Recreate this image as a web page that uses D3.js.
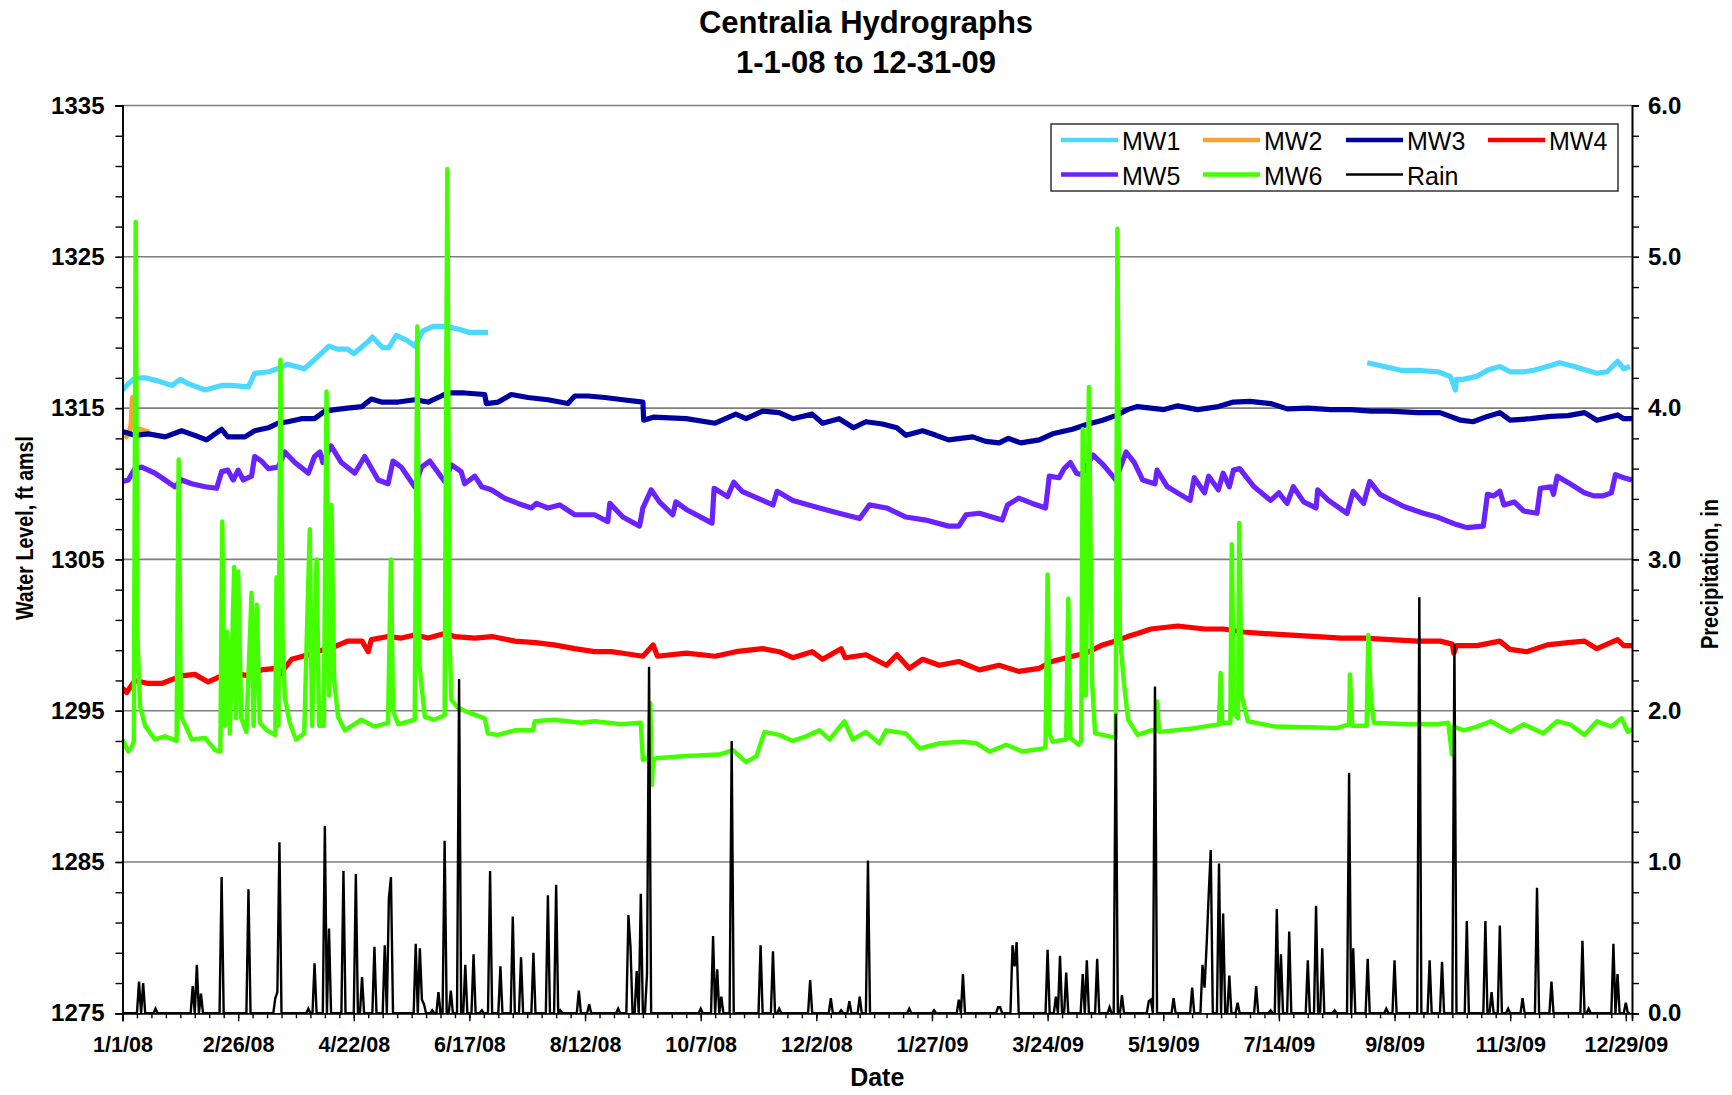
<!DOCTYPE html>
<meta charset="utf-8">
<script src="https://d3js.org/d3.v7.min.js"></script>
<style>
  body { margin: 0; background: #fff; }
  text { font-family: "Liberation Sans", Arial, sans-serif; }
</style>
<div id="my_dataviz"></div>
<script>
// all x values are days since 1/1/08
var seriesNames = ["MW1", "MW2", "MW3", "MW4", "MW5", "MW6", "Rain"];
var seriesColors = ["#4dd8ff", "#f9a230", "#0000a0", "#ff0000", "#6a22ff", "#44ff00", "#000000"];

var levelTicks = [1275, 1285, 1295, 1305, 1315, 1325, 1335];
var rainTicks = [0, 1, 2, 3, 4, 5, 6];
var dateTickDays = [0, 56, 112, 168, 224, 280, 336, 392, 448, 504, 560, 616, 672, 728];

var mw1 = [[0,1316.2],[2,1316.5],[6,1317.0],[11,1317.0],[17,1316.8],[24,1316.5],[28,1316.9],[32,1316.6],
  [40,1316.2],[48,1316.5],[53,1316.5],[61,1316.4],[64,1317.3],[71,1317.4],[75,1317.6],[80,1317.9],[88,1317.6],
  [93,1318.2],[100,1319.1],[104,1318.9],[109,1318.9],[112,1318.6],[119,1319.4],[121,1319.7],[126,1319.0],
  [129,1319.0],[132.6,1319.8],[137.5,1319.5],[141.5,1319.1],[145.5,1320.1],[150.4,1320.4],[156.8,1320.4],
  [163.3,1320.2],[168,1320.0],[173,1320.0],[177,1320.0],[390,null],
  [602.8,1318.0],[611,1317.75],[619,1317.5],[627,1317.5],[637,1317.4],[643,1317.1],[645.5,1316.2],[646,1316.9],
  [649,1316.9],[656,1317.1],[661,1317.5],[667,1317.75],[672,1317.4],[678.6,1317.4],[683.5,1317.5],[690,1317.75],
  [696,1318.0],[703,1317.75],[709,1317.5],[714,1317.3],[719,1317.4],[724,1318.1],[727,1317.6],[730,1317.75]];

var mw2 = [[1,1313.0],[3,1313.3],[4.2,1313.9],[4.8,1315.7],[5.5,1313.9],[6.5,1313.5],[8.5,1313.6],[10.5,1313.5],[13,1313.4]];

var mw3 = [[0,1313.45],[6,1313.2],[12.5,1313.3],[20.6,1313.1],[28.6,1313.5],[35,1313.2],[40.7,1312.9],[48,1313.6],
  [51,1313.1],[59.3,1313.1],[64,1313.5],[70.6,1313.7],[75.4,1314.0],[80,1314.1],[86.7,1314.3],[93,1314.3],
  [98,1314.8],[103,1314.9],[109,1315.0],[116,1315.1],[120.5,1315.6],[125.4,1315.4],[133.5,1315.4],[141.5,1315.55],
  [148,1315.4],[154.4,1315.8],[157.6,1316.0],[165.7,1316.0],[175.4,1315.9],[176.2,1315.3],[182,1315.4],
  [188.3,1315.9],[196.4,1315.7],[206,1315.55],[215.7,1315.3],[219,1315.8],[225.4,1315.8],[233.5,1315.7],
  [242.3,1315.55],[252,1315.4],[252.4,1314.2],[257,1314.4],[273,1314.3],[287,1314.0],[297,1314.6],[302,1314.3],
  [310,1314.8],[318,1314.7],[324.6,1314.3],[334,1314.6],[339,1314.0],[347,1314.3],[354,1313.7],[360,1314.1],
  [368,1313.95],[375,1313.7],[379.4,1313.2],[387.5,1313.5],[394,1313.2],[400,1312.9],[411.7,1313.1],[418,1312.8],
  [424.5,1312.7],[429,1313.0],[435,1312.7],[444,1312.9],[450.4,1313.3],[460,1313.6],[466.5,1313.9],[474.6,1314.2],
  [481,1314.5],[486.7,1314.9],[491.5,1315.1],[498,1315.0],[504.4,1314.9],[511,1315.15],[520.7,1314.9],
  [530.7,1315.1],[538,1315.4],[546,1315.45],[556,1315.3],[564,1314.95],[574,1315.0],[585,1314.9],[595,1314.9],
  [604.7,1314.8],[614,1314.8],[627,1314.7],[638,1314.7],[648,1314.2],[654,1314.1],[661,1314.45],[667,1314.7],
  [672,1314.2],[682,1314.3],[691.8,1314.45],[700,1314.5],[708,1314.7],[714,1314.2],[724,1314.55],[727,1314.3],[731,1314.3]];

var mw4 = [[0,1296.5],[2,1296.2],[6,1297.0],[12.5,1296.8],[19,1296.8],[28.6,1297.3],[35,1297.4],[41.5,1296.9],
  [48,1297.3],[56,1297.4],[62.5,1297.3],[67.3,1297.7],[74,1297.8],[76.2,1297.4],[81.9,1298.4],[90,1298.7],
  [96.4,1299.0],[103,1299.25],[109,1299.6],[116,1299.6],[119,1298.9],[120.5,1299.7],[128.6,1299.9],[135,1299.8],
  [141.5,1300.0],[148,1299.8],[156,1300.1],[160.9,1299.9],[170.6,1299.8],[179,1299.9],[190,1299.6],[200,1299.5],
  [209,1299.35],[219,1299.1],[228.6,1298.9],[236.7,1298.9],[242.3,1298.8],[252,1298.6],[257,1299.35],[259,1298.6],
  [273,1298.8],[287,1298.6],[297,1298.9],[310,1299.1],[318,1298.9],[324.6,1298.5],[334,1298.9],[339,1298.4],
  [348,1299.1],[350,1298.5],[360,1298.7],[370,1298.0],[375,1298.7],[381,1297.8],[387.5,1298.4],[395.6,1298.0],
  [405,1298.25],[415,1297.7],[424.5,1298.0],[434,1297.6],[444,1297.8],[450,1298.25],[460,1298.6],[466.5,1298.8],
  [474.6,1299.35],[481,1299.6],[486.7,1299.9],[491.5,1300.1],[498,1300.4],[511,1300.6],[524,1300.4],[533,1300.4],
  [543,1300.2],[553,1300.1],[566,1300.0],[578.8,1299.9],[590,1299.8],[601,1299.8],[614,1299.7],[627,1299.6],
  [638,1299.6],[644,1299.4],[644.7,1298.8],[646,1299.3],[656,1299.3],[667,1299.6],[672,1299.05],[680,1298.9],
  [690,1299.35],[700,1299.5],[708,1299.6],[714,1299.1],[724,1299.7],[727,1299.3],[731,1299.3]];

var mw5 = [[0,1310.15],[2.8,1310.25],[6,1311.0],[9.3,1311.1],[15.7,1310.7],[20.6,1310.25],[25.4,1309.8],
  [28.6,1310.25],[33.5,1310.0],[40,1309.8],[45.6,1309.7],[48,1310.8],[51,1310.9],[53.6,1310.25],[56,1310.9],
  [58.5,1310.25],[62.5,1310.5],[64,1311.8],[67.3,1311.5],[70.6,1311.0],[75.4,1311.1],[78.6,1312.1],[83.5,1311.4],
  [90,1310.7],[93,1311.8],[95.6,1312.1],[97,1311.4],[101,1312.5],[106,1311.4],[112.5,1310.7],[117.3,1311.8],
  [123.8,1310.25],[128.6,1310.0],[131,1311.5],[135,1311.1],[141.5,1309.8],[144.8,1311.1],[148.8,1311.5],
  [156,1310.15],[159.3,1311.25],[164,1310.8],[165.7,1310.0],[170.6,1310.5],[174,1309.8],[178.6,1309.6],
  [185,1309.05],[191.5,1308.7],[198,1308.4],[200.4,1308.7],[206,1308.4],[211.7,1308.6],[219,1307.95],
  [228.6,1307.95],[235,1307.5],[236,1308.7],[242.3,1307.8],[250.4,1307.2],[252,1308.4],[256,1309.6],[260,1308.8],
  [266.5,1307.95],[268,1308.8],[273,1308.3],[285.5,1307.4],[286.5,1309.7],[293,1309.15],[296,1310.1],[300,1309.5],
  [310,1308.9],[315,1308.6],[317,1309.5],[324.6,1308.9],[337.5,1308.4],[347,1308.05],[357,1307.7],[361.7,1308.6],
  [370,1308.4],[379.4,1307.8],[389,1307.6],[400,1307.2],[405,1307.2],[408.5,1307.95],[415,1308.05],[426,1307.6],
  [428.6,1308.6],[434,1309.05],[440.6,1308.7],[447,1308.4],[448.8,1310.5],[453.6,1310.4],[456,1311.0],[459,1311.4],
  [462,1310.7],[464.5,1310.6],[470,1311.9],[475,1311.25],[481,1310.25],[486,1312.1],[490,1311.4],[494,1310.25],
  [500,1310.0],[501,1310.9],[506,1309.8],[517,1308.9],[519,1310.4],[524,1309.4],[526,1310.5],[530.7,1309.6],
  [533,1310.7],[536,1309.8],[538,1310.9],[541,1311.0],[548,1309.8],[556,1308.9],[560,1309.4],[564,1308.7],
  [567,1309.8],[572,1308.8],[578,1308.4],[578.8,1309.6],[584,1308.9],[593,1308.05],[596,1309.5],[601,1308.7],
  [604,1310.15],[609,1309.3],[620.5,1308.5],[630,1308.05],[636.6,1307.8],[646,1307.3],[651,1307.1],[659,1307.2],
  [661,1309.3],[664,1309.2],[667,1309.5],[669,1308.6],[674,1308.8],[678.5,1308.2],[685,1308.05],[686.6,1309.7],
  [691.8,1309.8],[693,1309.3],[694.8,1310.5],[701,1310.0],[708,1309.4],[712.5,1309.2],[717,1309.2],[721,1309.4],
  [723,1310.6],[727,1310.4],[731,1310.25]];

var mw6 = [[0,1293.1],[2.8,1292.3],[4.4,1292.6],[5.5,1293.0],[6.4,1327.3],[7.2,1300],[8.5,1295.3],[11,1294.0],
  [15.7,1293.1],[20.6,1293.3],[26.2,1293.0],[27.2,1311.6],[28.2,1296.5],[28.6,1294.6],[33.5,1293.1],[40,1293.2],
  [44.8,1292.4],[47.4,1292.3],[48.3,1307.5],[49.5,1294],[50.7,1300.2],[52,1293.5],[54.1,1304.5],[55,1294.5],
  [56,1304.2],[57.5,1294.5],[60,1293.6],[62.5,1302.8],[63.5,1294],[65,1302.0],[66.5,1294.2],[70,1293.7],
  [74,1293.4],[74.6,1303.8],[75.5,1294],[76.5,1318.2],[77.5,1300],[78.6,1295.9],[81,1294.2],[84,1293.1],
  [88,1293.5],[90.7,1307.0],[91.8,1294],[94,1305.0],[95.2,1294],[97.5,1294],[98.8,1316.1],[100,1296],
  [101.2,1308.6],[102.5,1297],[104.4,1294.6],[107.7,1293.7],[111,1294],[115.7,1294.4],[122,1293.95],
  [128.6,1294.2],[130,1305],[131,1295],[133.5,1294.1],[141.5,1294.4],[142.8,1320.4],[143.8,1298],[146.4,1294.6],
  [151,1294.4],[156,1294.7],[157.3,1330.8],[158.3,1300],[159.3,1295.7],[162.5,1295.2],[167.3,1294.9],
  [175.4,1294.5],[177,1293.5],[181.8,1293.4],[190,1293.7],[198.8,1293.7],[199.6,1294.3],[209,1294.4],
  [222,1294.2],[228.6,1294.3],[241.5,1294.1],[251,1294.2],[252,1291.75],[255,1291.9],[255.6,1295.5],
  [256.3,1290.1],[257,1291.8],[258.5,1291.85],[273,1292.0],[289,1292.1],[295.6,1292.4],[302,1291.6],[307,1292.0],
  [310.9,1293.6],[318,1293.4],[324.6,1293.0],[331,1293.3],[337.5,1293.7],[342.4,1293.1],[349.6,1294.3],
  [353.6,1293.1],[360,1293.6],[366.5,1292.85],[369.8,1293.7],[379.4,1293.5],[386,1292.5],[395.8,1292.85],
  [407,1292.95],[413.6,1292.85],[420,1292.3],[428,1292.75],[436,1292.3],[445.5,1292.5],[447,1292.6],[448,1304.0],
  [449,1293.5],[450.4,1292.95],[457,1293.1],[458,1302.4],[459,1293.2],[463,1292.75],[464.3,1293],[465,1313.6],
  [466.5,1296],[468,1316.4],[469.5,1297],[471,1293.5],[478,1293.3],[481,1293.2],[481.8,1326.85],[483,1300],
  [485,1296.8],[487,1294.4],[491.6,1293.4],[498,1293.7],[500.5,1293.7],[501,1295.6],[502,1293.6],[517,1293.8],
  [531,1294.1],[531.8,1297.5],[532.5,1294.2],[536.5,1294.2],[537.2,1306.0],[538.2,1294.8],[540.2,1294.5],
  [540.8,1307.4],[542,1296],[545,1294.3],[558,1293.95],[574,1293.9],[588,1293.85],[594,1294.1],[594.4,1297.4],
  [595.5,1294],[602.5,1294],[603.3,1300.0],[604.5,1296],[606,1294.2],[622,1294.1],[636.7,1294.1],[642,1294.2],
  [643.8,1292.1],[644.7,1293.95],[649.6,1293.7],[656,1293.95],[662.6,1294.3],[672,1293.6],[678.6,1294.1],
  [688,1293.5],[694.7,1294.3],[701,1294.1],[708,1293.4],[714,1294.3],[721,1293.95],[726,1294.5],[729,1293.6],[731,1293.8]];

// daily rain (in); days not listed had no rain
var rainDays = [[8,0.21],[10,0.20],[16,0.03],[34,0.18],[36,0.32],[38,0.13],[48,0.90],[61,0.82],[74,0.10],[75,0.14],
  [76,1.13],[90,0.03],[93,0.33],[98,1.24],[100,0.56],[107,0.94],[113,0.92],[116,0.24],[122,0.44],[127,0.45],
  [129,0.76],[130,0.90],[142,0.46],[144,0.43],[145,0.09],[146,0.06],[150,0.02],[153,0.14],[156,1.14],[159,0.15],
  [163,2.21],[166,0.32],[170,0.39],[174,0.02],[178,0.94],[183,0.31],[189,0.64],[193,0.37],[199,0.40],[206,0.78],
  [210,0.85],[212,0.02],[221,0.15],[226,0.06],[240,0.03],[245,0.65],[246,0.44],[249,0.28],[251,0.79],[254,0.26],
  [255,2.29],[280,0.03],[286,0.51],[288,0.29],[290,0.11],[295,1.80],[309,0.45],[315,0.41],[318,0.03],[333,0.22],
  [343,0.10],[348,0.02],[352,0.08],[357,0.11],[361,1.01],[381,0.03],[393,0.02],[405,0.09],[407,0.26],[424,0.04],
  [425,0.04],[431,0.45],[432,0.31],[433,0.47],[448,0.42],[452,0.11],[454,0.38],[457,0.27],[465,0.26],[467,0.35],
  [472,0.36],[478,0.04],[481,1.98],[484,0.12],[497,0.08],[498,0.09],[500,2.16],[509,0.10],[518,0.17],[523,0.32],
  [524,0.17],[525,0.45],[526,0.78],[527,1.08],[531,0.99],[533,0.66],[536,0.25],[540,0.07],[549,0.18],[556,0.02],
  [559,0.69],[561,0.39],[565,0.54],[574,0.35],[578,0.71],[581,0.43],[587,0.02],[594,1.59],[596,0.43],[603,0.36],
  [612,0.03],[616,0.35],[628,2.75],[633,0.35],[639,0.34],[645,2.44],[651,0.61],[660,0.61],[663,0.14],[667,0.58],
  [671,0.03],[678,0.10],[685,0.83],[692,0.21],[707,0.48],[710,0.03],[722,0.46],[724,0.26],[728,0.07]];

// set the dimensions and margins of the graph
var margin = {top: 105.5, left: 122.5},
    width = 1509.5,
    height = 907.8;

var svg = d3.select("#my_dataviz")
  .append("svg")
    .attr("width", 1732)
    .attr("height", 1095)
  .append("g")
    .attr("transform", "translate(" + margin.left + "," + margin.top + ")");

var t0 = Date.UTC(2008, 0, 1);
function toDate(d) { return new Date(t0 + d * 864e5); }

var x = d3.scaleUtc().domain([toDate(0), toDate(731)]).range([0, width]);
var y = d3.scaleLinear().domain([1275, 1335]).range([height, 0]);
var yRain = d3.scaleLinear().domain([0, 6]).range([height, 0]);

// gridlines
svg.append("g").selectAll("line")
  .data(levelTicks.slice(1))
  .enter().append("line")
    .attr("x1", 0).attr("x2", width)
    .attr("y1", function(d) { return y(d); })
    .attr("y2", function(d) { return y(d); })
    .attr("stroke", "#7f7f7f")
    .attr("stroke-width", 1.6);

svg.append("clipPath").attr("id", "plotclip")
  .append("rect").attr("x", 0).attr("y", -2).attr("width", width).attr("height", height + 2);

var plot = svg.append("g").attr("clip-path", "url(#plotclip)");

var wellLine = d3.line()
  .defined(function(d) { return d[1] != null; })
  .x(function(d) { return x(toDate(d[0])); })
  .y(function(d) { return y(d[1]); });

var wells = [mw1, mw2, mw3, mw4, mw5, mw6];
wells.forEach(function(data, i) {
  plot.append("path")
    .datum(data)
    .attr("fill", "none")
    .attr("stroke", seriesColors[i])
    .attr("stroke-width", i == 5 ? 4.5 : 5.2)
    .attr("stroke-linejoin", "round")
    .attr("d", wellLine);
});

// rain: one value per day
var rainMap = new Map(rainDays);
var rain = d3.range(0, 731).map(function(d) { return [d, rainMap.get(d) || 0]; });

plot.append("path")
  .datum(rain)
  .attr("fill", "none")
  .attr("stroke", "#000")
  .attr("stroke-width", 2.4)
  .attr("d", d3.line()
    .x(function(d) { return x(toDate(d[0])); })
    .y(function(d) { return yRain(d[1]); }));

// axes
function styleAxis(sel, size, weight) {
  sel.selectAll("path").attr("stroke", "#000").attr("stroke-width", 1.6);
  sel.selectAll("line").attr("stroke", "#000").attr("stroke-width", 1.4);
  sel.selectAll("text")
    .attr("font-family", "'Liberation Sans', Arial, sans-serif")
    .style("font-size", size + "px")
    .style("font-weight", weight)
    .attr("fill", "#000");
}

// minor ticks
svg.append("g")
  .call(d3.axisLeft(y).tickValues(d3.range(1275, 1336, 2)).tickSize(7).tickFormat(""))
  .call(styleAxis, 10, "normal");
svg.append("g")
  .attr("transform", "translate(" + width + ",0)")
  .call(d3.axisRight(yRain).tickValues(d3.range(0, 31).map(function(d) { return d / 5; })).tickSize(7).tickFormat(""))
  .call(styleAxis, 10, "normal");
svg.append("g")
  .attr("transform", "translate(0," + height + ")")
  .call(d3.axisBottom(x).tickValues(d3.range(0, 732, 7).map(toDate)).tickSize(5).tickFormat(""))
  .call(styleAxis, 10, "normal");

// major ticks and labels
svg.append("g")
  .call(d3.axisLeft(y).tickValues(levelTicks).tickSize(7).tickPadding(11).tickFormat(d3.format("d")))
  .call(styleAxis, 24, "bold");

svg.append("g")
  .attr("transform", "translate(" + width + ",0)")
  .call(d3.axisRight(yRain).tickValues(rainTicks).tickSize(7).tickPadding(9).tickFormat(d3.format(".1f")))
  .call(styleAxis, 24, "bold");

svg.append("g")
  .attr("transform", "translate(0," + height + ")")
  .call(d3.axisBottom(x).tickValues(dateTickDays.map(toDate)).tickSize(8).tickPadding(15)
    .tickFormat(d3.utcFormat("%-m/%-d/%y")))
  .call(styleAxis, 21.5, "bold");

// axis titles
svg.append("text")
  .attr("text-anchor", "middle")
  .attr("x", width / 2)
  .attr("y", 1086 - margin.top)
  .style("font-size", "25px").style("font-weight", "bold")
  .text("Date");

svg.append("text")
  .attr("text-anchor", "middle")
  .attr("transform", "translate(" + (33 - margin.left) + "," + (528 - margin.top) + ") rotate(-90)")
  .attr("textLength", 184).attr("lengthAdjust", "spacingAndGlyphs")
  .style("font-size", "24px").style("font-weight", "bold")
  .text("Water Level, ft amsl");

svg.append("text")
  .attr("text-anchor", "middle")
  .attr("transform", "translate(" + (1718 - margin.left) + "," + (574 - margin.top) + ") rotate(-90)")
  .attr("textLength", 150).attr("lengthAdjust", "spacingAndGlyphs")
  .style("font-size", "24px").style("font-weight", "bold")
  .text("Precipitation, in");

// chart title
var title = svg.append("text")
  .attr("text-anchor", "middle")
  .style("font-size", "31px").style("font-weight", "bold");
title.append("tspan").attr("x", 866 - margin.left).attr("y", 33 - margin.top).text("Centralia Hydrographs");
title.append("tspan").attr("x", 866 - margin.left).attr("y", 73 - margin.top).text("1-1-08 to 12-31-09");

// legend
var legend = svg.append("g").attr("transform", "translate(" + (1051 - margin.left) + "," + (124 - margin.top) + ")");
legend.append("rect")
  .attr("width", 567).attr("height", 67)
  .attr("fill", "#fff").attr("stroke", "#333").attr("stroke-width", 1.5);

var colX = [10, 152, 295, 437];
seriesNames.forEach(function(name, i) {
  var row = Math.floor(i / 4), col = i % 4;
  var item = legend.append("g")
    .attr("transform", "translate(" + colX[col] + "," + (16 + row * 34.5) + ")");
  item.append("line")
    .attr("x1", 0).attr("x2", 57)
    .attr("stroke", seriesColors[i])
    .attr("stroke-width", name == "Rain" ? 2.5 : 4.5);
  item.append("text")
    .attr("x", 61).attr("y", 10)
    .style("font-size", "25px")
    .text(name);
});
</script>
